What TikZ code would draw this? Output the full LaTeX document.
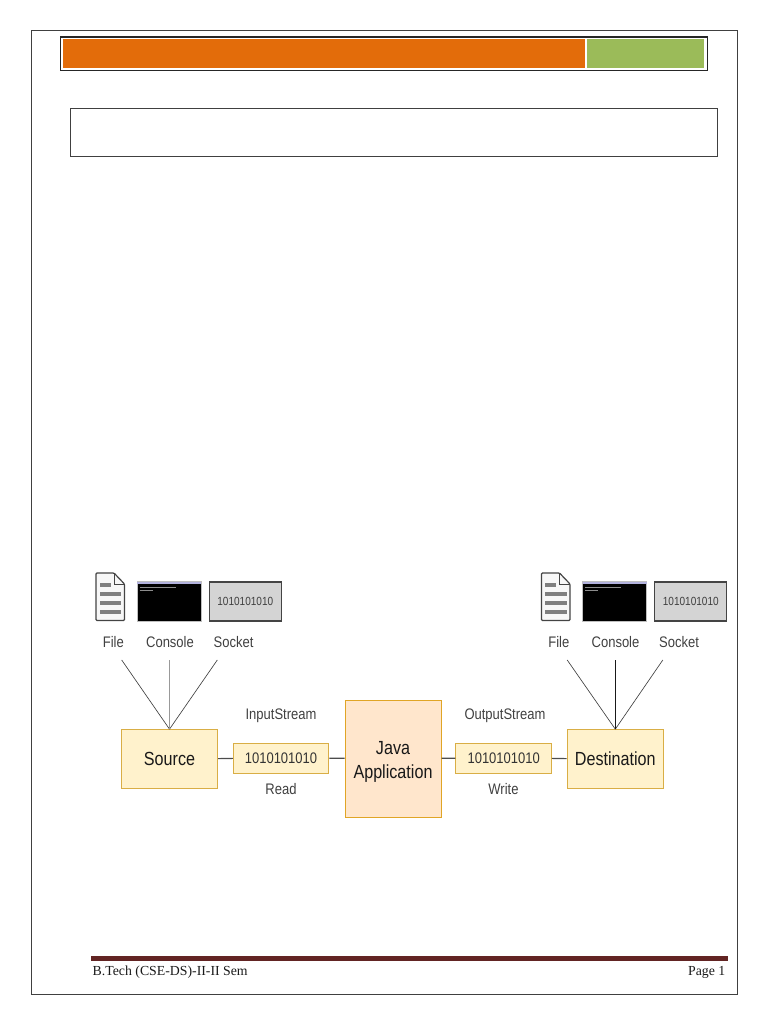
\documentclass[tikz,border=0pt]{standalone}
\usepackage{fontspec}
\setmainfont[FakeStretch=0.85]{Liberation Sans}
\newfontfamily\footfont{Liberation Serif}
\usepackage{xcolor}
\usetikzlibrary{arrows.meta, positioning, calc}
\definecolor{barorange}{HTML}{E36C0A}
\definecolor{bargreen}{HTML}{9BBB59}
\definecolor{footred}{HTML}{622423}
\definecolor{boxfill}{HTML}{FFF2CC}
\definecolor{boxline}{HTML}{D9AE45}
\definecolor{appfill}{HTML}{FFE6CC}
\definecolor{appline}{HTML}{E0A526}
\definecolor{iconline}{HTML}{444444}
\definecolor{iconbar}{HTML}{7F7F7F}
\tikzset{
  frame/.style={draw=black!75, line width=0.9pt},
  endbox/.style={draw=boxline, fill=boxfill, line width=1.2pt, minimum width=96pt, minimum height=58.5pt, font=\fontsize{19}{22}\selectfont, text=black!90},
  bitbox/.style={draw=boxline, fill=boxfill, line width=1pt, minimum width=95.5pt, minimum height=30pt, font=\fontsize{15.3}{18}\selectfont, text=black!80},
  appbox/.style={draw=appline, fill=appfill, line width=1pt, minimum width=96pt, minimum height=117pt, align=center, font=\fontsize{19}{24}\selectfont, text=black!90},
  lbl/.style={font=\fontsize{15.3}{18}\selectfont, text=black!75},
  sockbox/.style={draw=iconline, fill=black!17, line width=1.2pt, minimum width=72pt, minimum height=39pt, font=\fontsize{11.8}{14}\selectfont, text=black!75},
  consbox/.style={draw=black!25, fill=black, line width=0.8pt, minimum width=64pt, minimum height=40pt},
  link/.style={draw=black!70, line width=1.1pt},
  fanline/.style={draw=black!75, line width=0.65pt},
  footer/.style={font=\footfont\fontsize{13.8}{16}\selectfont, text=black!90, inner sep=0pt}
}
\begin{document}
\begin{tikzpicture}[x=1pt, y=-1pt]
  \useasboundingbox (0,0) rectangle (768,1024);
  % Page frame and header bar
  \draw[frame] (31.7,30) rectangle (737,994.5);
  \draw[draw=black!85, line width=1.4pt] (60.3,37) rectangle (707.6,70.4);
  \fill[barorange] (62.8,39) rectangle (585,68.3);
  \fill[bargreen] (587.3,39) rectangle (704,68.3);
  \draw[frame] (70,108) rectangle (717,156.3);
  % Main row
  \node[endbox] (source) at (169.5,759) {Source};
  \node[bitbox] (inbits) at (281,758) {1010101010};
  \node[appbox] (java) at (393,758.5) {\rule{0pt}{19pt}Java\\Application};
  \node[bitbox] (outbits) at (503.7,758) {1010101010};
  \node[endbox] (dest) at (615.3,759) {Destination};
  \draw[link] (source) -- (inbits);
  \draw[link] (inbits) -- (java);
  \draw[link] (java) -- (outbits);
  \draw[link] (outbits) -- (dest);
  % Stream labels
  \node[lbl] (instream) at (281,715.5) {InputStream};
  \node[lbl] (readlbl) at (281,789.5) {Read};
  \node[lbl] (outstream) at (505,715.5) {OutputStream};
  \node[lbl] (writelbl) at (503.5,789.5) {Write};
  % Icon groups above both end boxes
  \foreach \grp/\dx/\tgt/\midcol in {src/0/source/black!40, dst/445.5/dest/black!90} {
    % File icon
    \filldraw[draw=iconline, fill=black!3, line width=1.2pt, rounded corners=1pt]
      (96+\dx,573) -- (114+\dx,573) -- (124.5+\dx,584) -- (124.5+\dx,620.5) -- (96+\dx,620.5) -- cycle;
    \draw[draw=iconline, line width=0.8pt] (114+\dx,573) -- (114+\dx,584) -- (124.5+\dx,584);
    \fill[iconbar] (99.5+\dx,583) rectangle (110.5+\dx,586.5);
    \foreach \ybar in {592,601,610} {
      \fill[iconbar] (99.5+\dx,\ybar) rectangle (121+\dx,\ybar+3.5);
    }
    % Console and socket icons
    \node[consbox] (\grp console) at (169+\dx,601.5) {};
    \fill[black!45!blue!30!white] (137+\dx,581.7) rectangle (201+\dx,584);
    \draw[black!45, line width=0.5pt] (139.5+\dx,587) -- (175.5+\dx,587);
    \draw[black!45, line width=0.5pt] (139.5+\dx,590) -- (152.5+\dx,590);
    \node[sockbox] (\grp socket) at (245.3+\dx,601.5) {1010101010};
    % Icon captions
    \node[lbl] (\grp filelbl) at (113.3+\dx,642) {File};
    \node[lbl] (\grp conslbl) at (170+\dx,642) {Console};
    \node[lbl] (\grp socklbl) at (233.5+\dx,642) {Socket};
    % Lines into the end box
    \coordinate (\grp a) at (121.7+\dx,660);
    \coordinate (\grp b) at (\tgt.north |- 0,660);
    \coordinate (\grp c) at (217.3+\dx,660);
    \draw[fanline] (\grp a) -- (\tgt.north);
    \draw[fanline] (\grp c) -- (\tgt.north);
    \draw[draw=\midcol, line width=1.2pt] (\grp b) -- (\tgt.north);
  }
  % Footer
  \fill[footred] (91,956.3) rectangle (727.5,959.6);
  \fill[footred] (91,960.4) rectangle (727.5,961);
  \node[footer, anchor=base west] (course) at (92.5,975.5) {B.Tech (CSE-DS)-II-II Sem};
  \node[footer, anchor=base east] (pagenum) at (725.5,975.5) {Page 1};
\end{tikzpicture}
\end{document}
